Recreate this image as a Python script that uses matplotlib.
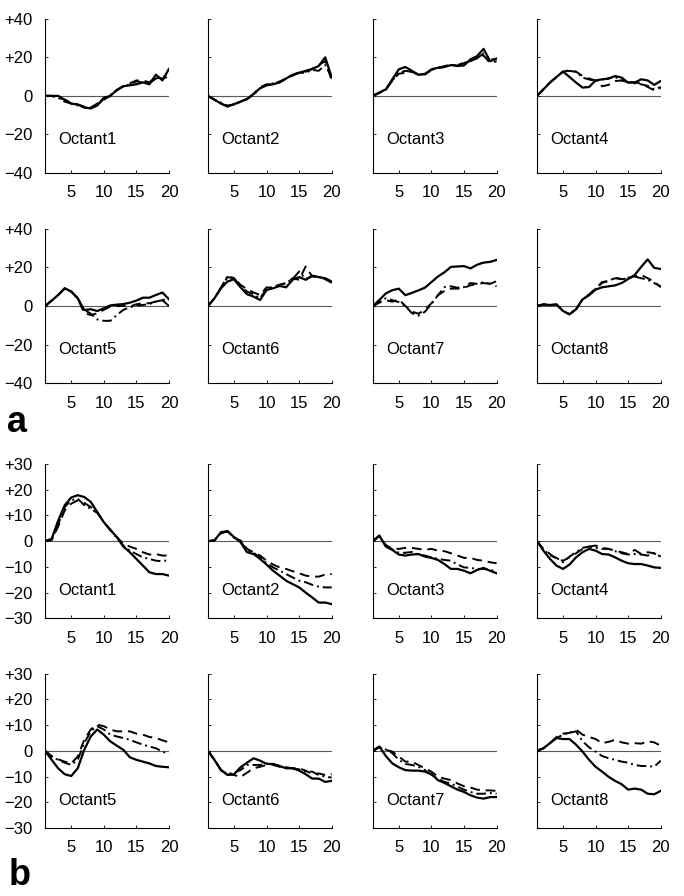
import matplotlib
matplotlib.use("Agg")
import matplotlib.pyplot as plt

plt.rcParams['font.family'] = ['Liberation Sans', 'DejaVu Sans']

steps = list(range(1, 21))
octants = ["Octant1", "Octant2", "Octant3", "Octant4",
           "Octant5", "Octant6", "Octant7", "Octant8"]

# panel a : values per octant (solid, dashed, dash-dot)
a_solid = [
    [0, 0, 0, -2, -4, -4.5, -6, -6.5, -5, -1, 0, 3, 5, 5.5, 6, 7, 6, 11, 8, 14],
    [0, -2, -4, -5.5, -4.3, -3, -1.7, 1, 4, 5.5, 6, 7, 9, 11, 12, 13, 14, 15.5, 20, 9.5],
    [0, 1.7, 3.4, 8.6, 13.8, 15, 13, 11, 11.2, 13.8, 14.6, 15, 16, 15.5, 15.8, 19, 20.6, 24.4, 18, 19.4],
    [0, 3.4, 6.9, 9.8, 12.6, 9.8, 6.9, 4.3, 4.6, 8, 8.6, 9, 10.3, 9.5, 6.9, 6.9, 8.6, 8, 5.7, 7.7],
    [0, 2.8, 5.7, 9.2, 7.5, 4, -2.1, -1.7, -2.6, -1.2, 0.3, 0.7, 1, 1.7, 2.8, 4.3, 4.3, 5.7, 7, 3.5],
    [0, 4, 9.2, 12.7, 13.9, 9.7, 6.1, 4.9, 3.1, 8.3, 9.2, 10.4, 9.7, 13.6, 15, 13.6, 15.7, 15, 14.4, 12.7],
    [0, 3.1, 6.5, 8.2, 9, 5.6, 6.8, 8.1, 9.5, 12.4, 15.3, 17.5, 20.3, 20.5, 20.7, 19.5, 21.4, 22.5, 22.9, 23.9],
    [0, 0.8, 0.5, 0.8, -2.6, -4.3, -1.7, 3.4, 5.6, 8.5, 9.7, 10.2, 10.7, 11.9, 14, 16.1, 20.3, 24.2, 19.8, 19.2],
]
a_dashed = [
    [0, 0, -1, -2, -3.5, -4.5, -5.5, -6, -4, -2, 0, 3, 5, 6.5, 8, 8, 7, 10, 9, 10],
    [0, -2, -4, -5.5, -4.5, -3, -1.5, 1, 4.5, 6, 6, 7.5, 9, 10.5, 12, 12.5, 14, 16, 18, 8],
    [0, 1.5, 3, 8, 11.5, 12, 12.5, 11, 11, 13.5, 14.5, 15, 16.5, 15.5, 17.5, 18, 19.5, 21, 17, 18],
    [0, 3.4, 6.9, 9.8, 12.6, 13.3, 12.6, 10.3, 9, 8, 5, 5.7, 7.7, 8, 7.4, 7, 6.4, 4.6, 2.9, 4],
    [0, 2.8, 5.7, 9.2, 7.5, 4, -3.8, -4.7, -3.8, -2, -0.3, 0, 0, -0.3, 0.9, 1.4, 1.4, 2.3, 3, 0],
    [0, 4, 9.5, 15, 14.4, 11, 8.7, 7, 5.7, 9.7, 9.2, 11, 11.8, 14.4, 13.6, 20.5, 15.3, 15.3, 13.9, 12.2],
    [0, 1.7, 3, 2.2, 3.4, 0, -2.9, -4, -2, 1.4, 5.6, 7.8, 9, 9, 9.5, 10.7, 11.5, 11.9, 11.5, 10.2],
    [0, 0.8, 0.5, 0.8, -2.6, -4.3, -1.7, 3.6, 6, 9, 12.4, 13, 14.4, 14, 14.7, 15.3, 16.1, 14.4, 12.7, 9.7],
]
a_dashdot = [
    [0, 0, -1, -3, -4, -5, -6, -6.5, -5, -1.5, 0.5, 3, 5, 6, 7.5, 7, 6.5, 9, 10, 10],
    [0, -2, -3.5, -5, -4.5, -3, -1.5, 0.5, 4, 5.5, 6.5, 7, 9, 11, 12, 12, 13.5, 13, 16, 10],
    [0, 1.7, 3.2, 8, 12, 13, 12.5, 11, 11.5, 13.5, 14.5, 15.5, 16, 16, 17, 18.5, 19.5, 22, 19, 19],
    [0, 3.4, 6.9, 9.8, 12.6, 13, 12.4, 9.5, 8.5, 7.7, 8.5, 9, 9.8, 8, 7, 6.5, 6, 5.2, 3.4, 4.6],
    [0, 2.8, 5.7, 9.2, 7.5, 4, -2, -4, -7, -7.7, -7.7, -4.7, -2, -0.7, 0.3, 0.5, 1, 2.3, 3, 4],
    [0, 4, 9.5, 15.5, 14.5, 10, 7.5, 6, 4, 9, 10, 11, 12, 14, 17.9, 14, 15.5, 15, 14, 12],
    [0, 2, 4, 3, 2, 0, -3.7, -5, -3, 1, 5.6, 9.8, 10.2, 9.5, 9.8, 11.9, 11.5, 12.4, 11.5, 12.9],
    [0, 0.8, 0.5, 0.8, -2.6, -4.3, -1.7, 3.4, 5.8, 8.8, 12, 13, 14.7, 13.9, 14.4, 15.3, 14.4, 13.6, 11.9, 10.2],
]

# panel b
b_solid = [
    [0, 0.9, 8, 14, 17, 17.9, 17.2, 15.3, 11.3, 7.4, 4.4, 1.6, -2.1, -4.3, -6.9, -9.5, -12.1, -12.8, -12.8, -13.4],
    [0, 0.3, 3.5, 3.9, 1.6, -0.4, -4.3, -5, -6.9, -9.1, -11.5, -13.4, -15.4, -16.7, -18, -20, -21.9, -23.9, -23.9, -24.5],
    [0, 2.2, -2.1, -3.4, -5.2, -5.6, -5.2, -5, -6, -6.5, -7.3, -8.9, -10.8, -10.8, -11.5, -12.5, -11.2, -10.4, -11.5, -12.5],
    [0, -3.7, -6.9, -9.5, -10.8, -9.1, -6.3, -4.3, -3, -3.7, -5, -5.2, -6.3, -7.6, -8.6, -8.9, -8.9, -9.5, -10.2, -10.4],
    [0, -3.5, -6.8, -9.1, -9.8, -6.8, 0.4, 5.6, 8.3, 6.3, 3.7, 2, 0.4, -2.5, -3.5, -4.2, -4.9, -5.9, -6.2, -6.4],
    [0, -3.5, -7.5, -9.4, -9.1, -6.4, -4.6, -2.9, -3.8, -5.1, -5.1, -5.9, -6.8, -6.8, -7.7, -9.1, -10.8, -10.8, -12.1, -11.7],
    [0, 1.7, -2, -4.9, -6.4, -7.5, -7.7, -7.7, -8.1, -9.1, -11.4, -12.5, -13.8, -15.1, -16, -17.3, -18.2, -18.6, -18, -18],
    [0, 1, 3, 5, 4.6, 4.6, 2.4, -0.3, -3.5, -6.2, -8.1, -10.1, -11.7, -13, -15.1, -14.7, -15.1, -16.7, -16.9, -15.6],
]
b_dashed = [
    [0, 0.5, 5.7, 12, 14.6, 15.9, 14.9, 13.3, 11.3, 7.4, 4.4, 1.6, -1, -2.1, -3, -4.3, -5.2, -5, -5.6, -5.6],
    [0, 0.3, 3, 3.9, 1.3, 0.3, -3, -4.3, -5.6, -7.6, -9.1, -10.2, -10.8, -11.7, -12.5, -13.4, -13.8, -13.8, -13, -12.8],
    [0, 2, -1.5, -3, -3, -2.6, -2.6, -3, -3.4, -3, -3.7, -3.9, -4.7, -5.6, -6.5, -6.5, -7.3, -7.6, -8.2, -8.6],
    [0, -3, -5, -6.9, -7.6, -6.3, -4.7, -3, -2.1, -1.7, -2.6, -3, -3.7, -4.3, -5, -3.4, -5, -4.3, -4.7, -6.3],
    [0, -2, -3.3, -4.2, -4.9, -2.2, 4.3, 8.3, 10.2, 9.6, 8.3, 7.6, 7.6, 7.6, 6.7, 6.3, 5.4, 5, 4.1, 3.3],
    [0, -3.5, -7.5, -9.1, -9.4, -10.2, -8.5, -6.8, -6.2, -5.5, -5.1, -5.9, -6.4, -6.8, -6.8, -7.7, -9.1, -8.8, -9.4, -9.1],
    [0, 1.4, 0.4, -0.3, -2.2, -4.2, -4.2, -5.5, -6.8, -8.1, -10.1, -10.8, -11.4, -12.7, -13.8, -14.3, -15.1, -15.4, -15.4, -15.6],
    [0, 1, 3, 5.4, 6.7, 7, 8.3, 6.3, 5.4, 4.6, 3, 3.5, 4.3, 3.3, 2.8, 3, 2.8, 3.7, 3.3, 2],
]
b_dashdot = [
    [0, 0.5, 6.5, 13.3, 15.9, 16.6, 14, 12.6, 11, 7.4, 4.4, 1.3, -1.7, -3.7, -5, -6.3, -6.9, -7.6, -7.8, -7.3],
    [0, 0.3, 3.2, 3.9, 1.5, 0, -3.5, -4.5, -6.5, -8.6, -10.2, -11.5, -12.8, -14.1, -15.4, -16, -17, -17.7, -18, -18],
    [0, 2, -1.8, -3.2, -4.5, -4.5, -4.2, -5.2, -5.6, -6.3, -6.9, -7.3, -7.6, -9.1, -10.2, -10.4, -10.8, -10.8, -11.2, -11.7],
    [0, -3.2, -5.5, -6.5, -8.2, -6, -4.3, -2.6, -2.1, -2.6, -3, -3, -3.9, -4.7, -5.2, -5, -5.2, -5.6, -4.7, -6],
    [0, -2.5, -3.5, -4.6, -5.5, -3.5, 3, 7.6, 9.6, 8.3, 6.3, 5.6, 5, 4.3, 3.3, 2.4, 1.7, 1, -0.3, -1.2],
    [0, -3.5, -7.5, -9, -8.5, -7.5, -5.5, -5.5, -5.5, -4.9, -5.5, -6.2, -6.4, -6.8, -7.2, -8.1, -8.1, -9.4, -10.1, -10.4],
    [0, 1.5, 0.5, -0.9, -3.5, -5.1, -5.5, -6.2, -7.5, -9.4, -10.8, -12.1, -12.7, -14, -15.1, -16, -16.7, -16.7, -16.4, -16.7],
    [0, 1, 3, 5, 6.3, 7, 7.6, 3.7, 1.4, -0.3, -2, -2.9, -3.5, -4.2, -4.6, -5.5, -5.9, -5.9, -6.2, -3.8],
]

a_ticks = [-40, -20, 0, 20, 40]
a_ticklabels = ["\u221240", "\u221220", "0", "+20", "+40"]
b_ticks = [-30, -20, -10, 0, 10, 20, 30]
b_ticklabels = ["\u221230", "\u221220", "\u221210", "0", "+10", "+20", "+30"]
x_ticks = [5, 10, 15, 20]

fig = plt.figure(figsize=(6.84, 8.96), dpi=100)

lefts = [0.066, 0.304, 0.545, 0.785]
bottoms = [0.807, 0.5725, 0.310, 0.076]
w, h = 0.181, 0.172


def draw_panel(ax, solid, dashed, dashdot, name, ticks, labels, lim, label_y, first_col):
    ax.axhline(0, color="0.35", lw=0.8, zorder=1)
    ax.plot(steps, dashed, color="black", lw=1.4, ls=(0, (5, 3)))
    ax.plot(steps, dashdot, color="black", lw=1.4, ls=(0, (5, 2, 1, 2)))
    ax.plot(steps, solid, color="black", lw=1.6)
    ax.set_xlim(1, 20)
    ax.set_ylim(-lim, lim)
    ax.spines["top"].set_visible(False)
    ax.spines["right"].set_visible(False)
    ax.set_xticks(x_ticks)
    ax.set_yticks(ticks)
    if first_col:
        ax.set_yticklabels(labels)
    else:
        ax.set_yticklabels([])
    ax.tick_params(axis="both", direction="in", length=2.5, width=0.6,
                   labelsize=12, pad=9)
    ax.text(3, label_y, name, fontsize=12)


for i in range(8):
    r, c = divmod(i, 4)
    ax = fig.add_axes([lefts[c], bottoms[r], w, h])
    draw_panel(ax, a_solid[i], a_dashed[i], a_dashdot[i], octants[i],
               a_ticks, a_ticklabels, 40, -25, c == 0)

for i in range(8):
    r, c = divmod(i, 4)
    ax = fig.add_axes([lefts[c], bottoms[r + 2], w, h])
    draw_panel(ax, b_solid[i], b_dashed[i], b_dashdot[i], octants[i],
               b_ticks, b_ticklabels, 30, -21, c == 0)

fig.text(0.010, 0.518, "a", fontsize=26, fontweight="bold")
fig.text(0.012, 0.012, "b", fontsize=26, fontweight="bold")

plt.savefig("out.png", dpi=100)
